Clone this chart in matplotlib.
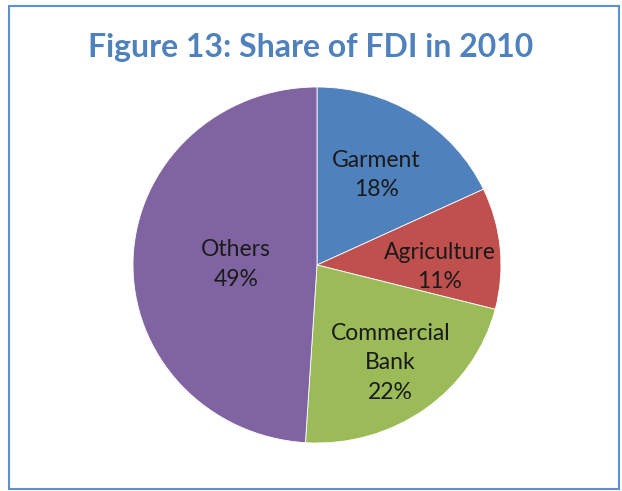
import numpy as np
import matplotlib.pyplot as plt
from matplotlib.patches import Rectangle

# FDI share by sector, 2010 (percent)
sectors = ["Garment", "Agriculture", "Commercial\nBank", "Others"]
shares = [18, 11, 22, 49]
colors = ["#4F81BD", "#C0504D", "#9BBB59", "#8064A2"]
# label placement (radius fraction, small vertical nudge)
label_r = [0.60, 0.67, 0.68, 0.44]
label_dy = [0.0, -0.075, 0.0, -0.01]

plt.rcParams['font.family'] = ['Lato', 'DejaVu Sans']

fig = plt.figure(figsize=(6.22, 4.91), dpi=100)
ax = fig.add_axes([133/622, 48/491, 368/622, 356/491])

wedges, _ = ax.pie(shares, colors=colors, startangle=90, counterclock=False,
                   wedgeprops=dict(edgecolor="white", linewidth=0.6))
ax.set_aspect('auto')
ax.set_xlim(-1, 1)
ax.set_ylim(-1, 1)

for w, name, s, r, dy in zip(wedges, sectors, shares, label_r, label_dy):
    ang = np.deg2rad((w.theta1 + w.theta2) / 2)
    ax.text(r*np.cos(ang), r*np.sin(ang) + dy, f"{name}\n{s}%", ha="center", va="center",
            fontsize=16.5, color="#1a1a1a", linespacing=1.5)

fig.text(311/622, 1 - 47/491, "Figure 13: Share of FDI in 2010", ha="center", va="center",
         fontsize=23, fontweight="bold", color="#4F81BD")

fig.patches.append(Rectangle((9/622, 2/491), 610/622, 483/491, transform=fig.transFigure,
                             fill=False, edgecolor="#5B8FD6", linewidth=1.5))

fig.savefig("out.png", dpi=100)
